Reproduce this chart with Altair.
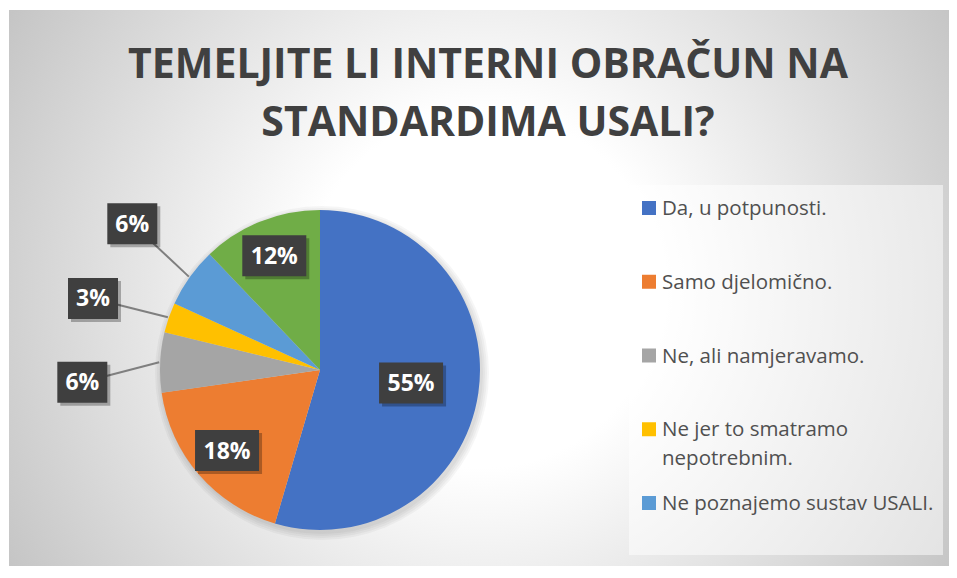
import altair as alt
import pandas as pd

# ---- data ----
categories = ["Da, u potpunosti.", "Samo djelomično.", "Ne, ali namjeravamo.",
              "Ne jer to smatramo nepotrebnim.", "Ne poznajemo sustav USALI.", "Ostalo."]
counts = [18, 6, 2, 1, 2, 4]
colors = ["#4472C4", "#ED7D31", "#A5A5A5", "#FFC000", "#5B9BD5", "#70AD47"]
legend_items = 5  # entries visible in the reference legend
title_lines = ["TEMELJITE LI INTERNI OBRAČUN NA", "STANDARDIMA USALI?"]

# ---- layout ----
W, H = 940, 556
CX, CY, R = 311, 360, 160
FONT = "Open Sans"

df = pd.DataFrame({"cat": categories, "count": counts, "idx": list(range(len(categories)))})
base = alt.Chart(df)
color_scale = alt.Scale(domain=categories, range=colors)
one = alt.Data(values=[{}])

# background radial gradient (square, clipped to the view so it stays circular)
GX, GY, GR = 474, 280, 555
bg = alt.Chart(one).mark_rect(
    clip=True,
    fill=alt.RadialGradient(
        gradient="radial", x1=0.5, y1=0.5, r1=0, x2=0.5, y2=0.5, r2=0.5,
        stops=[alt.GradientStop(offset=0, color="#ffffff"),
               alt.GradientStop(offset=0.32, color="#ffffff"),
               alt.GradientStop(offset=1, color="#c4c4c4")]),
).encode(x=alt.value(GX - GR), x2=alt.value(GX + GR), y=alt.value(GY - GR), y2=alt.value(GY + GR))

legend_box = alt.Chart(one).mark_rect(fill="white", opacity=0.5).encode(
    x=alt.value(620), x2=alt.value(934), y=alt.value(175), y2=alt.value(545))

# soft pie shadow
shadows = [
    alt.Chart(one).mark_arc(radius=R + d, theta=0, theta2=6.2832, fill="black", opacity=0.035)
    .encode(x=alt.value(CX + 2), y=alt.value(CY + 3))
    for d in (7, 5, 3, 1)
]

pie = base.mark_arc(radius=R).encode(
    theta=alt.Theta("count:Q", stack=True),
    order=alt.Order("idx:Q", sort="ascending"),
    color=alt.Color("cat:N", scale=color_scale, legend=None),
    x=alt.value(CX), y=alt.value(CY),
)

# label placement: inside for big slices, outside (spread apart) for small ones
lab = base.transform_joinaggregate(total="sum(count)").transform_window(
    cum="sum(count)", sort=[alt.SortField("idx")], frame=[None, 0]
).transform_calculate(
    pct="datum.count / datum.total"
).transform_calculate(
    mid="2*PI*(datum.cum - datum.count/2)/datum.total"
).transform_calculate(
    label="format(datum.pct, '.0%')"
).transform_calculate(
    out="datum.pct <= 0.1"
).transform_calculate(
    la="datum.out ? datum.mid + 0.25*(datum.mid - 2*PI*295.5/360) : datum.mid"
).transform_calculate(
    lr="datum.pct > 0.5 ? 92 : (datum.out ? 238 : 123)"
).transform_calculate(
    lx=f"{CX} + datum.lr*sin(datum.la)"
).transform_calculate(
    ly=f"{CY} - datum.lr*cos(datum.la)"
).transform_calculate(
    ex=f"{CX} + {R + 1}*sin(datum.mid)"
).transform_calculate(
    ey=f"{CY} - {R + 1}*cos(datum.mid)"
).transform_calculate(
    bw="length(datum.label) > 2 ? 64 : 50"
).transform_calculate(
    bx1="datum.lx - datum.bw/2"
).transform_calculate(
    bx2="datum.lx + datum.bw/2"
).transform_calculate(
    by1="datum.ly - 20.5"
).transform_calculate(
    by2="datum.ly + 20.5"
)

leaders = lab.transform_filter("datum.out").mark_rule(color="#7f7f7f", strokeWidth=2).encode(
    x=alt.X("lx:Q", scale=None, axis=None), y=alt.Y("ly:Q", scale=None, axis=None),
    x2="ex:Q", y2="ey:Q")

box_shadow = lab.mark_rect(fill="black", opacity=0.28, xOffset=3, yOffset=3, x2Offset=3, y2Offset=3).encode(
    x=alt.X("bx1:Q", scale=None, axis=None), x2="bx2:Q",
    y=alt.Y("by1:Q", scale=None, axis=None), y2="by2:Q")
boxes = lab.mark_rect(fill="#3f3f3f").encode(
    x=alt.X("bx1:Q", scale=None, axis=None), x2="bx2:Q",
    y=alt.Y("by1:Q", scale=None, axis=None), y2="by2:Q")
texts = lab.mark_text(font=FONT, fontWeight="bold", fontSize=23, color="white",
                      align="center", baseline="middle", dy=1).encode(
    x=alt.X("lx:Q", scale=None, axis=None), y=alt.Y("ly:Q", scale=None, axis=None), text="label:N")

leg = base.transform_filter(f"datum.idx < {legend_items}").transform_calculate(
    ly="198 + datum.idx*73.75"
).transform_calculate(
    txt="replace(datum.cat, 'smatramo ', 'smatramo\\n')"
)
leg_sq = leg.mark_square(size=196, opacity=1).encode(
    x=alt.value(640), y=alt.Y("ly:Q", scale=None, axis=None),
    color=alt.Color("cat:N", scale=color_scale, legend=None))
leg_tx = leg.mark_text(font=FONT, fontSize=20.5, color="#505050", align="left", baseline="alphabetic",
                       lineBreak="\n", lineHeight=29, dy=7).encode(
    x=alt.value(653), y=alt.Y("ly:Q", scale=None, axis=None), text="txt:N")

tdf = pd.DataFrame({"line": title_lines, "i": list(range(len(title_lines)))})
title = alt.Chart(tdf).transform_calculate(ty="68 + datum.i*58").mark_text(
    font=FONT, fontWeight="bold", fontSize=41, color="#404040", align="center", baseline="alphabetic"
).encode(x=alt.value(479), y=alt.Y("ty:Q", scale=None, axis=None), text="line:N")

chart = alt.layer(
    bg, legend_box, *shadows, pie, leaders, box_shadow, boxes, texts, leg_sq, leg_tx, title
).properties(
    width=W, height=H, autosize="none",
    padding={"left": 1, "top": 2, "right": 0, "bottom": 0},
).configure_view(stroke="#bfbfbf", strokeWidth=1)

chart.save("out.html", embed_options={"renderer": "svg", "actions": False})
